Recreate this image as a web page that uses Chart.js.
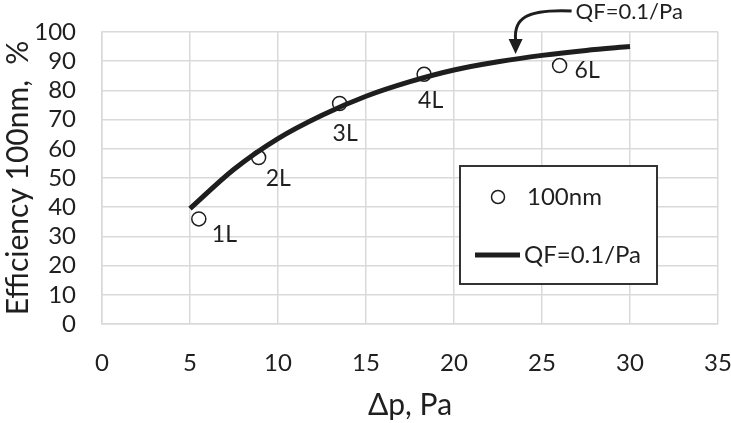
<!DOCTYPE html>
<html>
<head>
<meta charset="utf-8">
<script src="https://cdn.jsdelivr.net/npm/chart.js@4/dist/chart.umd.min.js"></script>
<style>
  html, body { margin: 0; padding: 0; background: #fff; }
  #chart { display: block; }
</style>
</head>
<body>
<canvas id="chart" width="731" height="423"></canvas>
<script>
// ==============================
// DATA
// ==============================
const dpMeasured = [5.5, 8.9, 13.5, 18.3, 26.0];
const eff100nm = [36, 57, 75.5, 85.5, 88.5];
const layerLabels = ["1L", "2L", "3L", "4L", "6L"];

// QF=0.1/Pa curve
const dpCurve = [5, 7.5, 10, 12.5, 15, 17.5, 20, 22.5, 25, 27.5, 30];
const effCurve = [39.5, 53, 63.5, 71.5, 78, 83, 87, 89.8, 92, 93.7, 95];

const xTicks = [0, 5, 10, 15, 20, 25, 30, 35];
const yTicks = [0, 10, 20, 30, 40, 50, 60, 70, 80, 90, 100];

const seriesNames = ["100nm", "QF=0.1/Pa"];
const calloutText = "QF=0.1/Pa";
const calloutTarget = { x: 23.5, y: 92.5 };

// ==============================
// STYLE
// ==============================
const FONT = "Lato, 'Open Sans', sans-serif";
const TEXT = "#1f1f1f";
const GRID = "#d9d9d9";
const INK = "#1e1e1e";

// label offsets (px) from each marker, Excel-style manual placement
const labelOffsets = [[13, 16], [7, 21], [-7, 30], [-6, 26], [15, 5]];

const noEdgePadding = s => {
  s.paddingTop = 0; s.paddingBottom = 0;
  s.paddingLeft = 0; s.paddingRight = 0;
};

const overlayPlugin = {
  id: "overlay",
  afterDraw(chart) {
    const { ctx, chartArea } = chart;
    const xs = chart.scales.x, ys = chart.scales.y;
    ctx.save();

    // point labels
    ctx.fillStyle = TEXT;
    ctx.font = `23px ${FONT}`;
    ctx.textAlign = "left";
    ctx.textBaseline = "middle";
    layerLabels.forEach((lbl, i) => {
      const px = xs.getPixelForValue(dpMeasured[i]);
      const py = ys.getPixelForValue(eff100nm[i]);
      ctx.fillText(lbl, px + labelOffsets[i][0], py + labelOffsets[i][1]);
    });

    // callout arrow
    const tx = xs.getPixelForValue(calloutTarget.x);
    const ty = ys.getPixelForValue(calloutTarget.y);
    ctx.strokeStyle = INK;
    ctx.fillStyle = INK;
    ctx.lineWidth = 3;
    ctx.beginPath();
    ctx.moveTo(tx + 56, ty - 43);
    ctx.bezierCurveTo(tx + 10, ty - 45, tx - 2, ty - 35, tx, ty - 14);
    ctx.stroke();
    ctx.beginPath();
    ctx.moveTo(tx - 7, ty - 15);
    ctx.lineTo(tx + 7, ty - 15);
    ctx.lineTo(tx, ty);
    ctx.closePath();
    ctx.fill();
    ctx.fillStyle = TEXT;
    ctx.font = `22px ${FONT}`;
    ctx.fillText(calloutText, tx + 60, ty - 42);

    // legend box
    const bx = chartArea.right - 258, by = chartArea.top + 134;
    const bw = 197, bh = 118;
    ctx.strokeStyle = "#333";
    ctx.lineWidth = 2;
    ctx.fillStyle = "#fff";
    ctx.fillRect(bx, by, bw, bh);
    ctx.strokeRect(bx, by, bw, bh);

    ctx.lineWidth = 1.5;
    ctx.strokeStyle = INK;
    ctx.beginPath();
    ctx.arc(bx + 38, by + 31, 6.5, 0, Math.PI * 2);
    ctx.stroke();

    ctx.lineWidth = 5;
    ctx.beginPath();
    ctx.moveTo(bx + 15, by + 89);
    ctx.lineTo(bx + 60, by + 89);
    ctx.stroke();

    ctx.fillStyle = TEXT;
    ctx.font = `24px ${FONT}`;
    ctx.fillText(seriesNames[0], bx + 67, by + 31);
    ctx.fillText(seriesNames[1], bx + 64, by + 89);

    ctx.restore();
  }
};

// ==============================
// CHART
// ==============================
new Chart(document.getElementById("chart").getContext("2d"), {
  type: "scatter",
  data: {
    datasets: [
      {
        label: seriesNames[1],
        type: "line",
        data: dpCurve.map((x, i) => ({ x, y: effCurve[i] })),
        borderColor: INK,
        borderWidth: 5,
        pointRadius: 0,
        fill: false,
        cubicInterpolationMode: "monotone",
        order: 0
      },
      {
        label: seriesNames[0],
        data: dpMeasured.map((x, i) => ({ x, y: eff100nm[i] })),
        pointStyle: "circle",
        pointRadius: 7,
        borderColor: INK,
        borderWidth: 1.5,
        backgroundColor: "#fff",
        order: 1
      }
    ]
  },
  options: {
    responsive: false,
    animation: false,
    layout: { padding: { left: 0, right: 13, top: 32, bottom: 0 } },
    plugins: { legend: { display: false }, tooltip: { enabled: false } },
    scales: {
      x: {
        type: "linear",
        min: xTicks[0],
        max: xTicks[xTicks.length - 1],
        afterBuildTicks: s => { s.ticks = xTicks.map(v => ({ value: v })); },
        afterFit: s => { s.height = 99; noEdgePadding(s); },
        grid: { color: GRID, lineWidth: 1.5, drawTicks: false },
        border: { color: GRID, width: 1.5 },
        ticks: { color: TEXT, font: { family: FONT, size: 24 }, padding: 25, autoSkip: false, maxRotation: 0 },
        title: {
          display: true,
          text: "\u0394p, Pa",
          color: TEXT,
          font: { family: FONT, size: 30 },
          padding: { top: 0, bottom: 0 }
        }
      },
      y: {
        type: "linear",
        min: yTicks[0],
        max: yTicks[yTicks.length - 1],
        afterBuildTicks: s => { s.ticks = yTicks.map(v => ({ value: v })); },
        afterFit: s => { s.width = 102; noEdgePadding(s); },
        grid: { color: GRID, lineWidth: 1.5, drawTicks: false },
        border: { color: GRID, width: 1.5 },
        ticks: { color: TEXT, font: { family: FONT, size: 24 }, padding: 26, autoSkip: false },
        title: {
          display: true,
          text: "Efficiency 100nm,  %",
          color: TEXT,
          font: { family: FONT, size: 30 },
          padding: { top: 0, bottom: 0 }
        }
      }
    }
  },
  plugins: [overlayPlugin]
});
</script>
</body>
</html>
